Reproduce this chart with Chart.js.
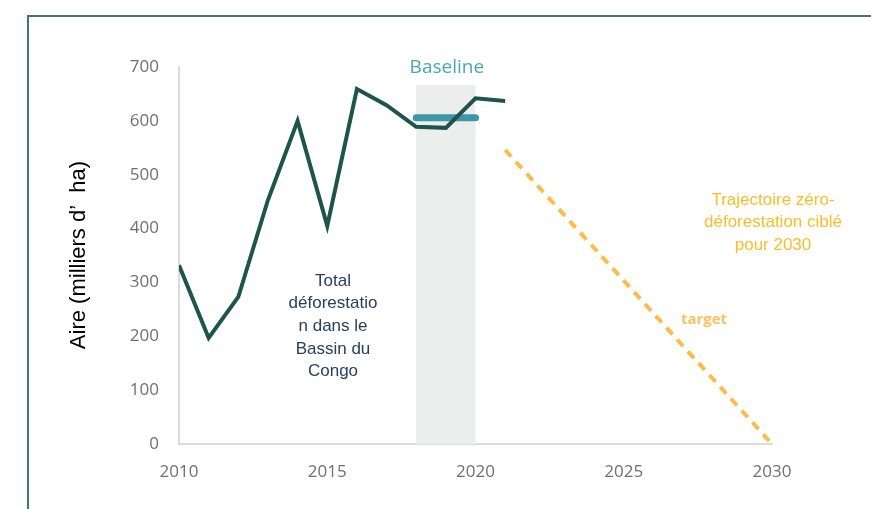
<!DOCTYPE html>
<html>
<head>
<meta charset="utf-8">
<script src="https://cdn.jsdelivr.net/npm/chart.js@4.4.0/dist/chart.umd.min.js"></script>
<style>
	html, body { margin: 0; padding: 0; background: #fff; }
	#wrap { position: relative; width: 871px; height: 509px; }
	#frame {
		position: absolute; left: 27px; top: 15px; right: 0; bottom: 0;
		border-top: 2px solid #3f7a68; border-left: 2px solid #3f7a68;
	}
	canvas { position: absolute; left: 0; top: 0; }
</style>
</head>
<body>
<div id="wrap">
	<div id="frame"></div>
	<canvas id="chart" width="871" height="509"></canvas>
</div>
<script>
// DATA

const years = [2010, 2011, 2012, 2013, 2014, 2015, 2016, 2017, 2018, 2019, 2020, 2021];
const deforestation = [332, 197, 273, 453, 600, 405, 659, 629, 589, 587, 642, 637];
const baselineYears = [2018, 2020];
const baselineValue = 606;
const baselineBandTop = 667;
const targetYears = [2021, 2030];
const targetValues = [546, 0];
const xTicks = [2010, 2015, 2020, 2025, 2030];
const yTicks = [0, 100, 200, 300, 400, 500, 600, 700];

//==================================
// PLUGINS
//==================================

const bandPlugin = {
	id: 'band',
	beforeDatasetsDraw(chart) {
		const ctx = chart.ctx;
		const x = chart.scales.x, y = chart.scales.y;
		const x0 = x.getPixelForValue(baselineYears[0]);
		const x1 = x.getPixelForValue(baselineYears[1]);
		const y0 = y.getPixelForValue(baselineBandTop);
		const y1 = y.getPixelForValue(0);
		ctx.save();
		ctx.fillStyle = '#eceeed';
		ctx.fillRect(x0, y0, x1 - x0, y1 - y0);
		ctx.restore();
	}
};

const textPlugin = {
	id: 'texts',
	afterDraw(chart) {
		const ctx = chart.ctx;
		const x = chart.scales.x;
		ctx.save();
		ctx.textAlign = 'center';
		ctx.textBaseline = 'middle';

		// axis title
		ctx.save();
		ctx.translate(79, 255);
		ctx.rotate(-Math.PI / 2);
		ctx.fillStyle = '#000';
		ctx.font = '22px "Liberation Sans", Arial, sans-serif';
		ctx.fillText('Aire (milliers d\u2019  ha)', 0, 0);
		ctx.restore();

		// baseline label
		ctx.fillStyle = '#4aa7b4';
		ctx.font = '19px "Open Sans", "Noto Sans", sans-serif';
		ctx.fillText('Baseline', (x.getPixelForValue(baselineYears[0]) + x.getPixelForValue(baselineYears[1])) / 2 + 1, 68);

		// total label
		ctx.fillStyle = '#27405f';
		ctx.font = '17px "Liberation Sans", Arial, sans-serif';
		['Total', 'déforestatio', 'n dans le', 'Bassin du', 'Congo'].forEach((t, i) => {
			ctx.fillText(t, 333, 281 + i * 22.7);
		});

		// trajectory label
		ctx.fillStyle = '#f9be26';
		['Trajectoire zéro-', 'déforestation ciblé', 'pour 2030'].forEach((t, i) => {
			ctx.fillText(t, 773, 200 + i * 22.5);
		});

		// target label
		ctx.fillStyle = '#f8c35e';
		ctx.font = 'bold 15px "Open Sans", "Noto Sans", sans-serif';
		ctx.fillText('target', 704, 320);
		ctx.restore();
	}
};

//==================================
// CHART
//==================================

const ctx = document.getElementById('chart').getContext('2d');

new Chart(ctx, {
	type: 'line',
	data: {
		datasets: [
			{
				data: years.map((yr, i) => ({ x: yr, y: deforestation[i] })),
				borderColor: '#1f544c',
				borderWidth: 4,
				pointRadius: 0,
				tension: 0,
				borderJoinStyle: 'miter',
			},
			{
				data: baselineYears.map(yr => ({ x: yr, y: baselineValue })),
				borderColor: '#3d97a7',
				borderWidth: 7,
				borderCapStyle: 'round',
				pointRadius: 0,
			},
			{
				data: targetYears.map((yr, i) => ({ x: yr, y: targetValues[i] })),
				borderColor: '#f9bd4a',
				borderWidth: 4,
				borderDash: [9, 7],
				pointRadius: 0,
			},
		],
	},
	options: {
		responsive: false,
		animation: false,
		layout: { padding: { top: 67, right: 99, left: 0, bottom: 0 } },
		plugins: { legend: { display: false }, tooltip: { enabled: false } },
		scales: {
			x: {
				type: 'linear',
				min: 2010,
				max: 2030,
				afterFit(scale) { scale.height = 65; },
				afterBuildTicks(scale) { scale.ticks = xTicks.map(v => ({ value: v })); },
				grid: { display: false, drawTicks: false },
				border: { color: '#dcdcdc', width: 2 },
				ticks: {
					padding: 18,
					color: '#6f6f6f',
					font: { family: '"Open Sans", "Noto Sans", sans-serif', size: 17 },
					callback: v => String(v),
				},
			},
			y: {
				min: 0,
				max: 700,
				afterFit(scale) { scale.width = 179; },
				afterBuildTicks(scale) { scale.ticks = yTicks.map(v => ({ value: v })); },
				grid: { display: false, drawTicks: false },
				border: { color: '#dcdcdc', width: 2 },
				ticks: {
					padding: 20,
					color: '#6f6f6f',
					font: { family: '"Open Sans", "Noto Sans", sans-serif', size: 17 },
				},
			},
		},
	},
	plugins: [bandPlugin, textPlugin],
});
</script>
</body>
</html>
